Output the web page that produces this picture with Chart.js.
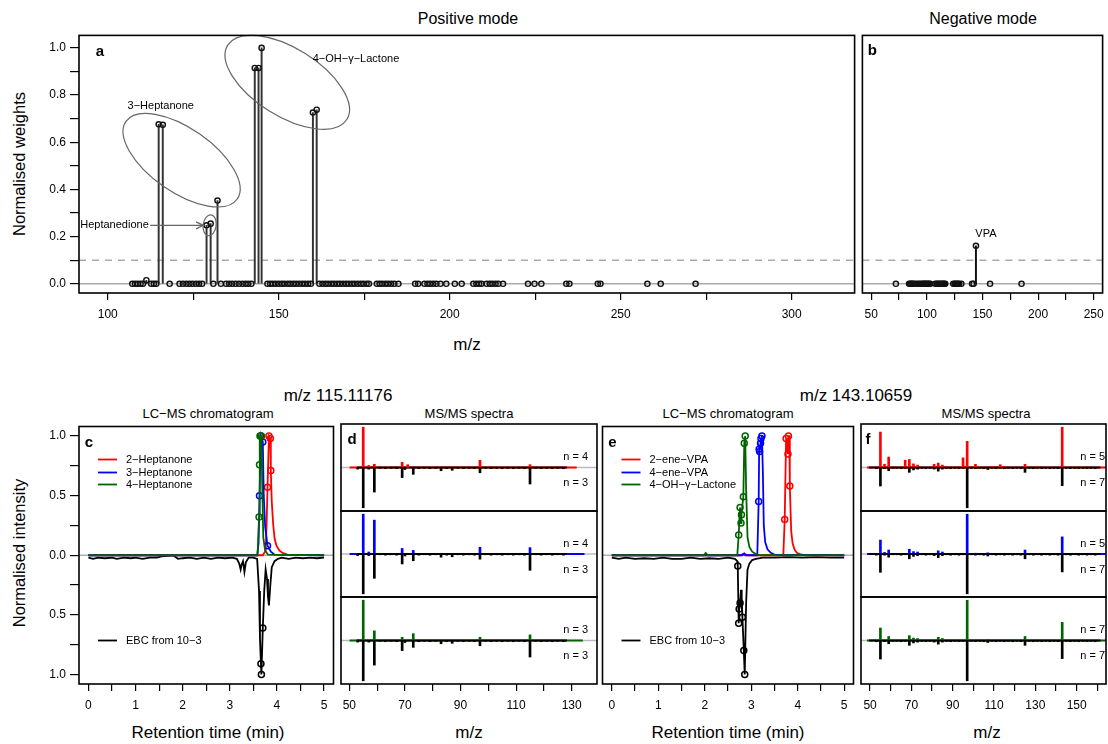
<!DOCTYPE html>
<html>
<head>
<meta charset="utf-8">
<script src="https://cdn.jsdelivr.net/npm/chart.js@4.4.1/dist/chart.umd.min.js"></script>
<style>
body { margin: 0; background: #fff; }
#stage { position: relative; width: 1108px; height: 744px; overflow: hidden; font-family: "Liberation Sans", Arial, sans-serif; color: #000; }
#stage canvas { position: absolute; }
.t { position: absolute; transform: translate(-50%, -50%); white-space: nowrap; }
.v { position: absolute; transform: translate(-50%, -50%) rotate(-90deg); white-space: nowrap; }
</style>
</head>
<body>
<div id="stage">
  <div class="t" style="left:468px;top:19px;font-size:16px">Positive mode</div>
  <div class="t" style="left:983px;top:19px;font-size:16px">Negative mode</div>
  <div class="v" style="left:19px;top:164px;font-size:16.5px">Normalised weights</div>
  <div class="t" style="left:467px;top:345px;font-size:17px">m/z</div>
  <div class="t" style="left:338px;top:396px;font-size:17px">m/z 115.11176</div>
  <div class="t" style="left:856px;top:396px;font-size:17px">m/z 143.10659</div>
  <div class="t" style="left:208px;top:413px;font-size:13px">LC−MS chromatogram</div>
  <div class="t" style="left:469px;top:413px;font-size:13px">MS/MS spectra</div>
  <div class="t" style="left:728px;top:413px;font-size:13px">LC−MS chromatogram</div>
  <div class="t" style="left:986px;top:413px;font-size:13px">MS/MS spectra</div>
  <div class="v" style="left:19px;top:553px;font-size:16.5px">Normalised intensity</div>
  <div class="t" style="left:208px;top:733px;font-size:17px">Retention time (min)</div>
  <div class="t" style="left:469px;top:733px;font-size:17px">m/z</div>
  <div class="t" style="left:728px;top:733px;font-size:17px">Retention time (min)</div>
  <div class="t" style="left:987px;top:733px;font-size:17px">m/z</div>
</div>
<script>
// ---------- data ----------
// panel a: positive mode features (m/z) and weights
var posZero = [107.2,108.0,108.8,109.6,110.3,112.7,113.5,114.2,118.1,121.0,122.0,123.0,123.9,124.8,125.8,126.7,127.6,
  130.9,133.1,134.6,135.5,136.4,137.4,138.4,139.4,140.3,141.1,142.0,146.7,147.5,148.3,149.1,150.0,150.9,151.7,152.6,
  153.4,154.3,155.1,156.0,156.9,157.7,158.6,159.4,161.9,162.8,163.7,164.5,165.4,166.2,167.1,167.9,168.8,169.7,170.5,
  171.4,172.2,173.1,174.0,174.8,175.7,176.4,178.7,179.5,180.3,181.2,182.0,182.9,183.8,185.0,189.9,190.8,192.6,193.5,
  194.3,195.2,196.1,197.3,199.0,201.5,203.5,206.9,207.8,208.6,209.3,210.8,211.7,212.5,213.4,214.2,215.6,222.9,224.8,
  226.8,234.1,235.0,243.3,244.1,257.8,261.7,271.9];
var posHitMz = [111.3, 114.9, 116.1, 128.9, 130.1, 132.1, 143.0, 144.1, 145.0, 160.0, 161.1];
var posHitW  = [0.015, 0.676, 0.674, 0.248, 0.255, 0.353, 0.915, 0.915, 1.0, 0.726, 0.738];
// panel b: negative mode
var negZero = [72.1,84.0,85.0,86.0,87.0,88.0,89.5,91.5,93.0,94.5,96.0,97.0,98.0,99.0,100.0,101.0,102.0,103.0,107.5,
  109.0,110.0,111.0,112.5,113.5,114.5,115.5,116.5,123.7,125.0,126.0,127.0,128.0,129.0,131.0,140.6,142.0,156.8,185.1];
var negHitMz = [144.1];
var negHitW  = [0.161];

// tick positions and labels
var posTicks = [100,125,150,175,200,225,250,275,300];
var posLabels = ['100','','150','','200','','250','','300'];
var negTicks = [50,75,100,125,150,175,200,225,250];
var negLabels = ['50','','100','','150','','200','','250'];
var wTicks = [0,0.1,0.2,0.3,0.4,0.5,0.6,0.7,0.8,0.9,1.0];
var wLabels = ['0.0','','0.2','','0.4','','0.6','','0.8','','1.0'];
var rtTicks = [0,0.5,1,1.5,2,2.5,3,3.5,4,4.5,5];
var rtLabels = ['0','','1','','2','','3','','4','','5'];
var intTicks = [-1,-0.75,-0.5,-0.25,0,0.25,0.5,0.75,1];
var intLabels = ['1.0','','0.5','','0.0','','0.5','','1.0'];
var dTicks = [50,60,70,80,90,100,110,120,130];
var dLabels = ['50','','70','','90','','110','','130'];
var fTicks = [50,60,70,80,90,100,110,120,130,140,150,160];
var fLabels = ['50','','70','','90','','110','','130','','150',''];

// panel c: chromatograms m/z 115 [time, intensity]
var hep2 = [[0,0],[3.70,0],[3.76,0.04],[3.78,0.25],[3.80,0.57],[3.83,1.0],[3.86,0.98],[3.87,0.71],[3.89,0.45],[3.92,0.26],
  [3.95,0.14],[3.99,0.08],[4.05,0.04],[4.12,0.02],[4.22,0.005],[5,0]];
var hep2Pk = [[3.80,0.57],[3.83,1.0],[3.86,0.98],[3.87,0.71]];
var hep3 = [[0,0],[3.58,0],[3.61,0.1],[3.63,0.5],[3.66,1.0],[3.70,0.95],[3.72,0.5],[3.75,0.24],[3.80,0.08],[3.87,0.03],[3.95,0.005],[5,0]];
var hep3Pk = [[3.63,0.5],[3.66,1.0],[3.70,0.95],[3.80,0.08]];
var hep4 = [[0,0],[3.59,0],[3.62,0.32],[3.63,0.76],[3.64,1.0],[3.67,1.0],[3.69,0.55],[3.71,0.15],[3.75,0.04],[3.81,0.005],[5,0]];
var hep4Pk = [[3.62,0.32],[3.63,0.76],[3.64,1.0],[3.67,1.0]];
var ebcC = [[0,-0.02],[0.1,-0.03],[0.2,-0.02],[0.35,-0.025],[0.5,-0.02],[0.6,-0.03],[0.75,-0.02],[0.9,-0.025],[1.0,-0.02],
  [1.15,-0.03],[1.3,-0.02],[1.45,-0.02],[1.55,-0.01],[1.7,-0.005],[1.8,0],[1.9,-0.03],[2.0,-0.025],[2.15,-0.02],[2.3,-0.03],
  [2.45,-0.02],[2.6,-0.03],[2.75,-0.02],[2.9,-0.025],[3.05,-0.02],[3.15,-0.03],[3.2,-0.07],[3.23,-0.12],[3.25,-0.08],
  [3.28,-0.05],[3.31,-0.14],[3.34,-0.06],[3.4,-0.02],[3.5,-0.02],[3.58,-0.03],[3.62,-0.3],[3.64,-0.7],[3.66,-0.91],
  [3.67,-1.0],[3.70,-0.61],[3.73,-0.3],[3.76,-0.12],[3.79,-0.2],[3.81,-0.35],[3.83,-0.42],[3.86,-0.25],[3.89,-0.1],
  [3.95,-0.05],[4.02,-0.03],[4.1,-0.02],[4.25,-0.03],[4.4,-0.02],[4.55,-0.025],[4.7,-0.02],[4.85,-0.025],[5,-0.02]];
var ebcCPk = [[3.66,-0.91],[3.67,-1.0],[3.70,-0.61]];

// panel e: chromatograms m/z 143
var ene2 = [[0,0],[2.78,0],[2.82,0.01],[2.86,0],[3.69,0],[3.72,0.30],[3.75,0.98],[3.79,0.85],[3.80,1.0],[3.82,1.0],[3.83,0.58],
  [3.86,0.2],[3.89,0.1],[3.93,0.05],[3.98,0.02],[4.05,0.01],[4.15,0],[5,0]];
var ene2Pk = [[3.72,0.30],[3.75,0.98],[3.79,0.85],[3.80,1.0],[3.83,0.58]];
var ene4 = [[0,0],[2.80,0],[2.85,0.015],[2.90,0],[3.13,0],[3.16,0.45],[3.17,0.89],[3.18,0.87],[3.20,0.94],[3.21,0.98],[3.23,1.0],
  [3.25,0.7],[3.27,0.25],[3.30,0.11],[3.35,0.05],[3.42,0.02],[3.5,0.005],[5,0]];
var ene4Pk = [[3.16,0.45],[3.17,0.89],[3.18,0.87],[3.20,0.94],[3.21,0.98],[3.23,1.0]];
var lac = [[0,0],[1.98,0],[2.02,0.02],[2.06,0],[2.70,0],[2.73,0.17],[2.75,0.35],[2.76,0.40],[2.78,0.27],[2.79,0.34],[2.81,0.42],
  [2.83,0.49],[2.85,0.94],[2.87,1.0],[2.89,0.55],[2.92,0.15],[2.96,0.07],[3.02,0.03],[3.10,0.01],[3.2,0],[5,0]];
var lacPk = [[2.73,0.17],[2.76,0.40],[2.78,0.27],[2.79,0.34],[2.83,0.49],[2.85,0.94],[2.87,1.0]];
var ebcE = [[0,-0.02],[0.15,-0.03],[0.3,-0.02],[0.5,-0.03],[0.7,-0.025],[0.9,-0.03],[1.1,-0.02],[1.3,-0.03],[1.5,-0.03],
  [1.7,-0.02],[1.9,-0.03],[2.1,-0.025],[2.3,-0.03],[2.5,-0.02],[2.65,-0.03],[2.70,-0.05],[2.71,-0.09],[2.73,-0.57],
  [2.74,-0.45],[2.76,-0.40],[2.78,-0.29],[2.79,-0.45],[2.80,-0.35],[2.81,-0.52],[2.84,-0.80],[2.86,-1.0],[2.89,-0.4],
  [2.92,-0.12],[2.96,-0.07],[3.02,-0.04],[3.10,-0.03],[3.25,-0.02],[3.5,-0.02],[3.8,-0.015],[4.1,-0.02],[4.4,-0.015],
  [4.7,-0.02],[5,-0.02]];
var ebcEPk = [[2.71,-0.09],[2.73,-0.57],[2.74,-0.45],[2.76,-0.40],[2.81,-0.52],[2.84,-0.80],[2.86,-1.0]];

// panel d: MS/MS spectra of m/z 115 [m/z, rel. intensity]
var dHep2 = [[55,1.0],[57,0.05],[59,0.08],[69,0.13],[71,0.07],[97,0.18],[115,0.07]];
var dHep3 = [[55,1.0],[57,0.05],[59,0.85],[69,0.14],[73,0.09],[97,0.17],[115,0.16]];
var dHep4 = [[53,0.02],[55,1.0],[59,0.24],[69,0.08],[73,0.17],[97,0.08],[115,0.14]];
var dEbc = [[53,-0.04],[55,-1.0],[57,-0.04],[59,-0.61],[61,-0.02],[63,-0.03],[65,-0.02],[67,-0.03],[69,-0.25],[70,-0.05],
  [73,-0.17],[75,-0.03],[77,-0.02],[79,-0.03],[81,-0.02],[83,-0.08],[85,-0.03],[87,-0.07],[89,-0.02],[91,-0.03],[93,-0.02],
  [95,-0.03],[97,-0.13],[99,-0.02],[101,-0.03],[103,-0.02],[105,-0.03],[107,-0.02],[109,-0.03],[111,-0.02],[113,-0.03],
  [115,-0.41],[117,-0.02],[119,-0.03],[121,-0.02],[123,-0.03],[125,-0.02],[127,-0.03]];
var dSpan = [[50.1,131.8],[50.1,134.6],[50.1,134.0]];
var dEbcSpan = [52.8, 128.3];
var dN = [['n = 4','n = 3'],['n = 4','n = 3'],['n = 3','n = 3']];

// panel f: MS/MS spectra of m/z 143
var fEne2 = [[55,0.88],[57,0.08],[59,0.26],[67,0.18],[69,0.2],[71,0.09],[73,0.06],[81,0.08],[83,0.11],[85,0.06],[87,0.02],
  [95,0.24],[97,0.65],[101,0.08],[109,0.03],[113,0.07],[115,0.03],[125,0.08],[143,1.0]];
var fEne4 = [[55,0.35],[57,0.04],[59,0.1],[69,0.12],[71,0.06],[73,0.05],[83,0.08],[85,0.05],[97,1.0],[101,0.02],[107,0.03],
  [125,0.1],[143,0.43]];
var fLac = [[55,0.31],[59,0.1],[69,0.12],[71,0.06],[73,0.05],[83,0.08],[85,0.05],[97,1.0],[107,0.02],[125,0.1],[143,0.45]];
var fEbc = [[53,-0.03],[55,-0.46],[57,-0.03],[59,-0.08],[61,-0.02],[63,-0.02],[65,-0.03],[67,-0.02],[69,-0.12],[71,-0.06],
  [73,-0.04],[75,-0.02],[77,-0.03],[79,-0.02],[81,-0.04],[83,-0.09],[85,-0.04],[87,-0.02],[89,-0.03],[91,-0.02],[93,-0.03],
  [95,-0.02],[97,-1.0],[99,-0.02],[101,-0.03],[103,-0.02],[105,-0.03],[107,-0.05],[109,-0.02],[111,-0.03],[113,-0.02],
  [115,-0.03],[117,-0.02],[119,-0.03],[121,-0.02],[123,-0.03],[125,-0.12],[127,-0.02],[129,-0.03],[131,-0.02],[133,-0.03],
  [135,-0.02],[137,-0.03],[139,-0.02],[141,-0.03],[143,-0.45],[145,-0.02],[147,-0.03],[149,-0.02],[151,-0.03],[153,-0.02],
  [155,-0.03],[157,-0.02],[159,-0.03]];
var fSpan = [[48.5,166],[48.5,166],[48.5,166]];
var fEbcSpan = [49.5, 161.5];
var fN = [['n = 5','n = 7'],['n = 5','n = 7'],['n = 7','n = 7']];

var cNames = ['2−Heptanone','3−Heptanone','4−Heptanone'];
var eNames = ['2−ene−VPA','4−ene−VPA','4−OH−γ−Lactone'];
var ebcName = 'EBC from 10−3';
var cols = ['#ff0000','#0000ff','#006400'];

// ---------- helpers ----------
Chart.defaults.font.family = '"Liberation Sans", Arial, sans-serif';
Chart.defaults.color = '#000';
var stage = document.getElementById('stage');
var FONT = '"Liberation Sans", Arial, sans-serif';

function pts(arr) { return arr.map(function(p){ return {x: p[0], y: p[1]}; }); }
function zipPts(xs, ys) { return xs.map(function(v, i){ return {x: v, y: ys ? ys[i] : 0}; }); }

function text(ctx, s, x, y, size, align, bold) {
  ctx.font = (bold ? 'bold ' : '') + size + 'px ' + FONT;
  ctx.fillStyle = '#000';
  ctx.textAlign = align || 'center';
  ctx.textBaseline = 'middle';
  ctx.fillText(s, x, y);
}

function ellipse(ctx, cx, cy, a, b, deg) {
  ctx.strokeStyle = '#666'; ctx.lineWidth = 1.2;
  ctx.beginPath(); ctx.ellipse(cx, cy, a, b, deg * Math.PI / 180, 0, 2 * Math.PI); ctx.stroke();
}

function legend(ctx, ca, items) {
  items.forEach(function(it) {
    var py = ca.top + it[2];
    ctx.strokeStyle = it[0]; ctx.lineWidth = 1.8;
    ctx.beginPath(); ctx.moveTo(ca.left + 19, py); ctx.lineTo(ca.left + 38, py); ctx.stroke();
    text(ctx, it[1], ca.left + 47, py, 11, 'left');
  });
}

function axis(range, ticks, labels, size, horiz, tl) {
  return {
    type: 'linear', min: range[0], max: range[1], display: !!ticks, offset: false,
    afterBuildTicks: function(s) { s.ticks = (ticks || []).map(function(v){ return {value: v}; }); },
    afterFit: function(s) {
      if (ticks) { if (horiz) s.height = size; else s.width = size; }
      s.paddingLeft = s.paddingRight = s.paddingTop = s.paddingBottom = 0;
    },
    ticks: {
      callback: function(v, i) { return labels ? labels[i] : ''; },
      autoSkip: false, maxRotation: 0, padding: horiz ? 7 : 4, color: '#000', font: {size: 12}
    },
    grid: {drawOnChartArea: false, drawTicks: true, offset: false, tickLength: tl, color: '#000', lineWidth: 1.2},
    border: {display: false}
  };
}

function deco(o) {
  return {
    id: 'deco',
    beforeDatasetsDraw: function(chart) {
      var ctx = chart.ctx, ca = chart.chartArea, y = chart.scales.y;
      ctx.save();
      (o.hl || []).forEach(function(h) {
        var py = y.getPixelForValue(h[0]);
        ctx.strokeStyle = h[1]; ctx.lineWidth = h[2]; ctx.setLineDash(h[3] || []);
        ctx.beginPath(); ctx.moveTo(ca.left, py); ctx.lineTo(ca.right, py); ctx.stroke();
      });
      ctx.restore();
    },
    afterDatasetsDraw: function(chart) {
      var ctx = chart.ctx, ca = chart.chartArea;
      ctx.save();
      if (o.draw) o.draw(ctx, chart.scales.x, chart.scales.y, ca);
      ctx.setLineDash([]);
      ctx.strokeStyle = '#000'; ctx.lineWidth = 1.6;
      ctx.strokeRect(ca.left, ca.top, ca.width, ca.height);
      ctx.restore();
    }
  };
}

function panel(box, o) {
  var pl = o.yt ? 80 : 3, pt = 3, pr = 3, pb = o.xt ? 40 : 3;
  var yW = o.yt ? 62 : 0, xH = o.xt ? 36 : 0;
  var cv = document.createElement('canvas');
  cv.width = box.r - box.l + pl + pr;
  cv.height = box.b - box.t + pt + pb;
  cv.style.left = (box.l - pl) + 'px';
  cv.style.top = (box.t - pt) + 'px';
  stage.appendChild(cv);
  return new Chart(cv, {
    type: 'scatter',
    data: {datasets: o.datasets},
    options: {
      responsive: false, animation: false, events: [],
      layout: {padding: {left: pl - yW, top: pt, right: pr, bottom: pb - xH}},
      plugins: {legend: {display: false}, tooltip: {enabled: false}},
      scales: {
        x: axis(o.xr, o.xt, o.xl, xH, true, 7),
        y: axis(o.yr, o.yt, o.yl, yW, false, 9)
      }
    },
    plugins: [deco(o)]
  });
}

function circles(data, col, r, w) {
  return {type: 'scatter', data: data, pointRadius: r, pointBorderWidth: w, pointBorderColor: col,
          pointBackgroundColor: 'rgba(0,0,0,0)', showLine: false};
}
function trace(data, col) {
  return {type: 'line', data: data, borderColor: col, borderWidth: 1.8, pointRadius: 0, tension: 0, fill: false};
}
function sticks(data, col, w) {
  return {type: 'bar', data: data, backgroundColor: col, barThickness: w, grouped: false, borderWidth: 0};
}
function span(s, col) {
  return trace([{x: s[0], y: 0}, {x: s[1], y: 0}], col);
}

var zeroHl = ['#b0b0b0', 1.5];

// ---------- panel a ----------
panel({l: 79, t: 33, r: 857, b: 293}, {
  xr: [91.6, 318.4], xt: posTicks, xl: posLabels,
  yr: [-0.039, 1.053], yt: wTicks, yl: wLabels,
  hl: [[0, '#aaa', 1.4], [0.1, '#aaa', 1.4, [7, 6]]],
  datasets: [
    circles(zipPts(posHitMz, posHitW).concat(zipPts(posZero)), '#111', 2.6, 1.4),
    sticks(zipPts(posHitMz, posHitW), '#333', 1.3)
  ],
  draw: function(ctx, x, y, ca) {
    text(ctx, 'a', ca.left + 21, ca.top + 16, 15, 'center', true);
    ellipse(ctx, x.getPixelForValue(121.6), y.getPixelForValue(0.524), 67.8, 31.8, 34.9);
    ellipse(ctx, x.getPixelForValue(152.5), y.getPixelForValue(0.854), 70.2, 33.9, 32);
    ellipse(ctx, x.getPixelForValue(129.8), y.getPixelForValue(0.248), 6.5, 10.5, 8);
    text(ctx, '3−Heptanone', x.getPixelForValue(115.5), y.getPixelForValue(0.755), 11);
    text(ctx, '4−OH−γ−Lactone', x.getPixelForValue(172.6), y.getPixelForValue(0.952), 11);
    text(ctx, 'Heptanedione', x.getPixelForValue(112.0), y.getPixelForValue(0.248), 11, 'right');
    var x0 = x.getPixelForValue(112.4), x1 = x.getPixelForValue(127.9), py = y.getPixelForValue(0.248);
    ctx.strokeStyle = '#666'; ctx.lineWidth = 1.3;
    ctx.beginPath(); ctx.moveTo(x0, py); ctx.lineTo(x1, py); ctx.stroke();
    ctx.beginPath(); ctx.moveTo(x1 - 7, py - 3.5); ctx.lineTo(x1, py); ctx.lineTo(x1 - 7, py + 3.5); ctx.stroke();
  }
});

// ---------- panel b ----------
panel({l: 860, t: 33, r: 1105, b: 293}, {
  xr: [42, 258], xt: negTicks, xl: negLabels,
  yr: [-0.039, 1.053],
  hl: [[0, '#aaa', 1.4], [0.1, '#aaa', 1.4, [7, 6]]],
  datasets: [
    circles(zipPts(negHitMz, negHitW).concat(zipPts(negZero)), '#111', 2.6, 1.4),
    sticks(zipPts(negHitMz, negHitW), '#111', 1.3)
  ],
  draw: function(ctx, x, y, ca) {
    text(ctx, 'b', ca.left + 10, ca.top + 15, 15, 'center', true);
    text(ctx, 'VPA', x.getPixelForValue(153.1), y.getPixelForValue(0.213), 11);
  }
});

// ---------- panel c ----------
panel({l: 79, t: 424, r: 336, b: 684}, {
  xr: [-0.2, 5.2], xt: rtTicks, xl: rtLabels,
  yr: [-1.08, 1.08], yt: intTicks, yl: intLabels,
  hl: [[0, zeroHl[0], zeroHl[1]]],
  datasets: [
    circles(pts(hep4Pk), cols[2], 3, 1.5), trace(pts(hep4), cols[2]),
    circles(pts(hep3Pk), cols[1], 3, 1.5), trace(pts(hep3), cols[1]),
    circles(pts(hep2Pk), cols[0], 3, 1.5), trace(pts(hep2), cols[0]),
    circles(pts(ebcCPk), '#000', 3, 1.5), trace(pts(ebcC), '#000')
  ],
  draw: function(ctx, x, y, ca) {
    text(ctx, 'c', ca.left + 10, ca.top + 16, 15, 'center', true);
    legend(ctx, ca, [[cols[0], cNames[0], 33], [cols[1], cNames[1], 46], [cols[2], cNames[2], 58], ['#000', ebcName, 214]]);
  }
});

// ---------- panel e ----------
panel({l: 600, t: 424, r: 856, b: 684}, {
  xr: [-0.2, 5.2], xt: rtTicks, xl: rtLabels,
  yr: [-1.08, 1.08],
  hl: [[0, zeroHl[0], zeroHl[1]]],
  datasets: [
    circles(pts(lacPk), cols[2], 3, 1.5), trace(pts(lac), cols[2]),
    circles(pts(ene4Pk), cols[1], 3, 1.5), trace(pts(ene4), cols[1]),
    circles(pts(ene2Pk), cols[0], 3, 1.5), trace(pts(ene2), cols[0]),
    circles(pts(ebcEPk), '#000', 3, 1.5), trace(pts(ebcE), '#000')
  ],
  draw: function(ctx, x, y, ca) {
    text(ctx, 'e', ca.left + 10, ca.top + 16, 15, 'center', true);
    legend(ctx, ca, [[cols[0], eNames[0], 33], [cols[1], eNames[1], 46], [cols[2], eNames[2], 58], ['#000', ebcName, 214]]);
  }
});

// ---------- panels d and f (three stacked spectra each) ----------
function spectra(l, r, xr, ticks, labels, specs, ebc, spans, ebcSpan, nLab, letter, nRight, lx) {
  var tops = [424, 511, 597, 684];
  specs.forEach(function(sp, k) {
    var last = k === 2;
    panel({l: l, t: tops[k], r: r, b: tops[k + 1]}, {
      xr: xr, xt: last ? ticks : null, xl: labels,
      yr: [-1.08, 1.08],
      hl: [[0, '#bbb', 1.5]],
      datasets: [
        sticks(pts(ebc), '#000', 2),
        sticks(pts(sp), cols[k], 2),
        span(ebcSpan, '#000'),
        span(spans[k], cols[k])
      ],
      draw: function(ctx, x, y, ca) {
        if (k === 0) text(ctx, letter, ca.left + lx, ca.top + 16, 15, 'center', true);
        text(ctx, nLab[k][0], ca.right - nRight, ca.top + 33, 11, 'right');
        text(ctx, nLab[k][1], ca.right - nRight, ca.top + 59, 11, 'right');
      }
    });
  });
}
spectra(341, 597, [47.0, 139.1], dTicks, dLabels, [dHep2, dHep3, dHep4], dEbc, dSpan, dEbcSpan, dN, 'd', 9, 11);
spectra(861, 1106, [45.6, 164.2], fTicks, fLabels, [fEne2, fEne4, fLac], fEbc, fSpan, fEbcSpan, fN, 'f', 1, 7);
</script>
</body>
</html>
